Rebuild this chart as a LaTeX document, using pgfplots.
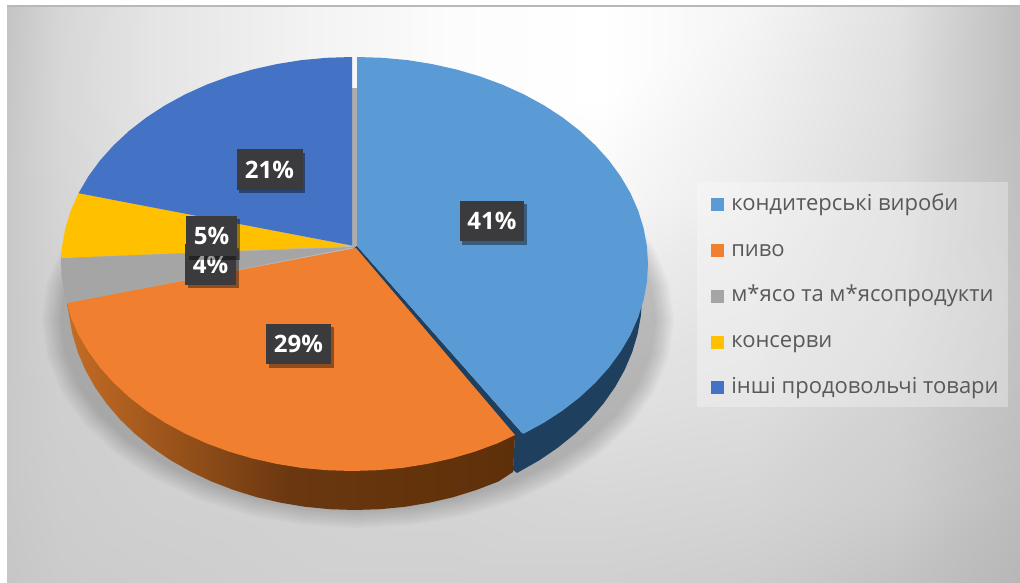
\documentclass[border=0pt]{standalone}
\usepackage{pgfplots}
\usepackage{pgfplotstable}
\pgfplotsset{compat=1.18}
\usepackage{fontspec}
\setmainfont{Open Sans}
\usetikzlibrary{shadows}
\definecolor{cBlue}{HTML}{5B9BD5}
\definecolor{cOrange}{HTML}{F07F30}
\definecolor{cGray}{HTML}{A5A5A5}
\definecolor{cGold}{HTML}{FFC000}
\definecolor{cDark}{HTML}{4472C4}
\definecolor{cRimB}{HTML}{1F3F5E}
\definecolor{cRimOL}{HTML}{C46C24}
\definecolor{cRimOM}{HTML}{6A3710}
\definecolor{cRimOR}{HTML}{5E3009}
\definecolor{cLbl}{HTML}{3B3B3D}
\pgfplotstableread{
u v
0 -1
0.1736 -0.9848
0.3420 -0.9397
0.5 -0.8660
0.6428 -0.7660
0.7660 -0.6428
0.8660 -0.5
0.9397 -0.3420
0.9848 -0.1736
1 0
0.9848 0.1736
0.9397 0.3420
0.8660 0.5
0.7660 0.6428
0.6428 0.7660
0.5 0.8660
0.3420 0.9397
0.1736 0.9848
0 1
-0.1736 0.9848
-0.3420 0.9397
-0.5 0.8660
-0.6428 0.7660
-0.7660 0.6428
-0.8660 0.5
-0.9397 0.3420
-0.9848 0.1736
-1 0
-0.9848 -0.1736
-0.9397 -0.3420
-0.8660 -0.5
-0.7660 -0.6428
-0.6428 -0.7660
-0.5 -0.8660
-0.3420 -0.9397
-0.1736 -0.9848
}\unitoval
\tikzset{lbl/.style={fill=cLbl,text=white,inner sep=0pt,minimum height=30.5pt,font=\fontsize{18}{20}\selectfont\bfseries,drop shadow={shadow xshift=2pt,shadow yshift=-2.5pt,opacity=.4,fill=black}}}
\begin{document}
\begin{tikzpicture}
\begin{axis}[
  width=765pt,height=436.5pt,scale only axis,
  xmin=0,xmax=1020,ymin=0,ymax=582,y dir=reverse,
  hide axis,clip=true,
  legend cell align=left,
  legend image code/.code={\fill[#1,draw=none] (0pt,-4.9pt) rectangle (9.8pt,4.9pt);},
  legend style={at={(axis cs:711,184)},anchor=north west,draw=none,fill=none,
    font=\fontsize{16.5}{19}\selectfont,text=black!65,row sep=14.3pt,inner xsep=0pt,inner ysep=5.5pt,
    nodes={inner xsep=2pt,inner ysep=2pt,text height=12pt,text depth=4pt},/tikz/every odd column/.append style={column sep=3.2pt}},
]
% page
\addplot[forget plot,draw=none,fill=white] coordinates {(0,0)(1020,0)(1020,582)(0,582)};
% background
\addplot[surf,shader=interp,mesh/cols=9,forget plot,point meta=explicit,point meta min=0,point meta max=255,
  colormap={g}{gray(0cm)=(0);gray(1cm)=(1)}] table[x=x,y=y,meta=c] {
x y c
7 6 196
60 6 214
150 6 228
300 6 242
450 6 252
600 6 255
750 6 245
900 6 225
1020 6 190
7 100 198
60 100 215
150 100 228
300 100 242
450 100 252
600 100 255
750 100 240
900 100 222
1020 100 190
7 200 200
60 200 213
150 200 224
300 200 236
450 200 245
600 200 248
750 200 235
900 200 218
1020 200 192
7 300 200
60 300 210
150 300 216
300 300 225
450 300 235
600 300 235
750 300 228
900 300 215
1020 300 195
7 400 200
60 400 207
150 400 210
300 400 215
450 400 222
600 400 225
750 400 222
900 400 210
1020 400 192
7 500 200
60 500 205
150 500 208
300 500 210
450 500 212
600 500 215
750 500 213
900 500 205
1020 500 188
7 582 198
60 582 203
150 582 205
300 582 208
450 582 208
600 582 208
750 582 205
900 582 195
1020 582 183
};
\addplot[forget plot,line width=1.5pt,color=black!28] coordinates {(7,5.5)(1020,5.5)};
% legend panel
\addplot[forget plot,draw=none,fill=white,fill opacity=.3] coordinates {(697,182)(1008,182)(1008,407)(697,407)};
% shadow
\pgfplotsinvokeforeach{0,...,9}{
  \addplot[forget plot,draw=none,fill=black,fill opacity=.02] table[x expr={358+(316-2*#1)*\thisrow{u}},y expr={320+(208-2*#1)*\thisrow{v}}] {\unitoval};
}
% gap behind slices
\addplot[forget plot,draw=none,fill=black!32] coordinates {(351,88)(358,88)(358,248)(351,248)};
% blue rim
\addplot[forget plot,draw=none,fill=cRimB] coordinates {(648,264)(642,297)(640.9,315.6)(637.6,334)(632.2,352.1)(624.7,369.8)(615.1,387)(603.5,403.5)(590.1,419.2)(574.9,433.9)(557.9,447.6)(539.5,460.2)(519.6,471.5)(517,473)(513,470)(515,435)(522,433)};
% orange rim
\addplot[forget plot,draw=none,left color=cRimOL,right color=cRimOR,middle color=cRimOM] coordinates {(515,435)(513,472)(498.5,481.5)(476.3,490)(453.2,497.2)(429.3,502.7)(404.8,506.8)(380,509.2)(355,510)(330,509.2)(305.2,506.8)(280.7,502.7)(256.8,497.2)(233.7,490)(211.5,481.5)(190.4,471.5)(170.5,460.2)(152.1,447.6)(135.1,433.9)(119.9,419.2)(106.5,403.5)(94.9,387)(85.3,369.8)(77.8,352.1)(72.4,334)(69.1,315.6)(67,303)(100,340)(300,440)};
% dark edge along blue slice
\addplot[forget plot,draw=none,fill=cRimB] coordinates {(357,246)(522,433)(515,437)(353,249)};
% slices
\addplot[draw=none,fill=cBlue] coordinates {(357,246)(357,57)(382.4,57.8)(407.5,60.1)(432.3,64.1)(456.5,69.5)(480,76.4)(502.5,84.7)(523.9,94.4)(544.1,105.4)(562.8,117.6)(579.9,130.9)(595.4,145.3)(609,160.5)(620.7,176.5)(630.5,193.2)(638.1,210.4)(643.6,228.1)(646.9,246)(648,264)(646.9,282)(643.6,299.9)(638.1,317.6)(630.5,334.8)(620.7,351.5)(609,367.5)(595.4,382.7)(579.9,397.1)(562.8,410.4)(544.1,422.6)(523.9,433.6)(522,433)};
\addlegendentry{кондитерські вироби}
\addplot[draw=none,fill=cOrange] coordinates {(356,248)(515,435)(497.5,443.3)(475,451.6)(451.5,458.5)(427.3,463.9)(402.5,467.9)(377.4,470.2)(352,471)(326.6,470.2)(301.5,467.9)(276.7,463.9)(252.5,458.5)(229,451.6)(206.5,443.3)(185.1,433.6)(164.9,422.6)(146.2,410.4)(129.1,397.1)(113.6,382.7)(100,367.5)(88.3,351.5)(78.5,334.8)(70.9,317.6)(67,303)};
\addlegendentry{пиво}
\addplot[draw=none,fill=cGray] coordinates {(354,247)(61,258)(61.5,275)(64,290)(67,303)};
\addlegendentry{м*ясо та м*ясопродукти}
\addplot[draw=none,fill=cGold] coordinates {(352,246)(78.5,193.2)(70.9,210.4)(65.4,228.1)(62.1,246)(61,258)};
\addlegendentry{консерви}
\addplot[draw=none,fill=cDark] coordinates {(352,245.5)(352,57)(326.6,57.8)(301.5,60.1)(276.7,64.1)(252.5,69.5)(229,76.4)(206.5,84.7)(185.1,94.4)(164.9,105.4)(146.2,117.6)(129.1,130.9)(113.6,145.3)(100,160.5)(88.3,176.5)(78.5,193.2)};
\addlegendentry{інші продовольчі товари}
% data labels
\node[lbl,minimum width=48.5pt] at (axis cs:492,221) {41\%};
\node[lbl,minimum width=49pt] at (axis cs:298.5,344) {29\%};
\node[lbl,minimum width=38pt] at (axis cs:210.5,264.5) {4\%};
\node[lbl,minimum width=38.5pt] at (axis cs:211.5,236) {5\%};
\node[lbl,minimum width=49.5pt] at (axis cs:269.5,169.5) {21\%};
\end{axis}
\end{tikzpicture}
\end{document}
